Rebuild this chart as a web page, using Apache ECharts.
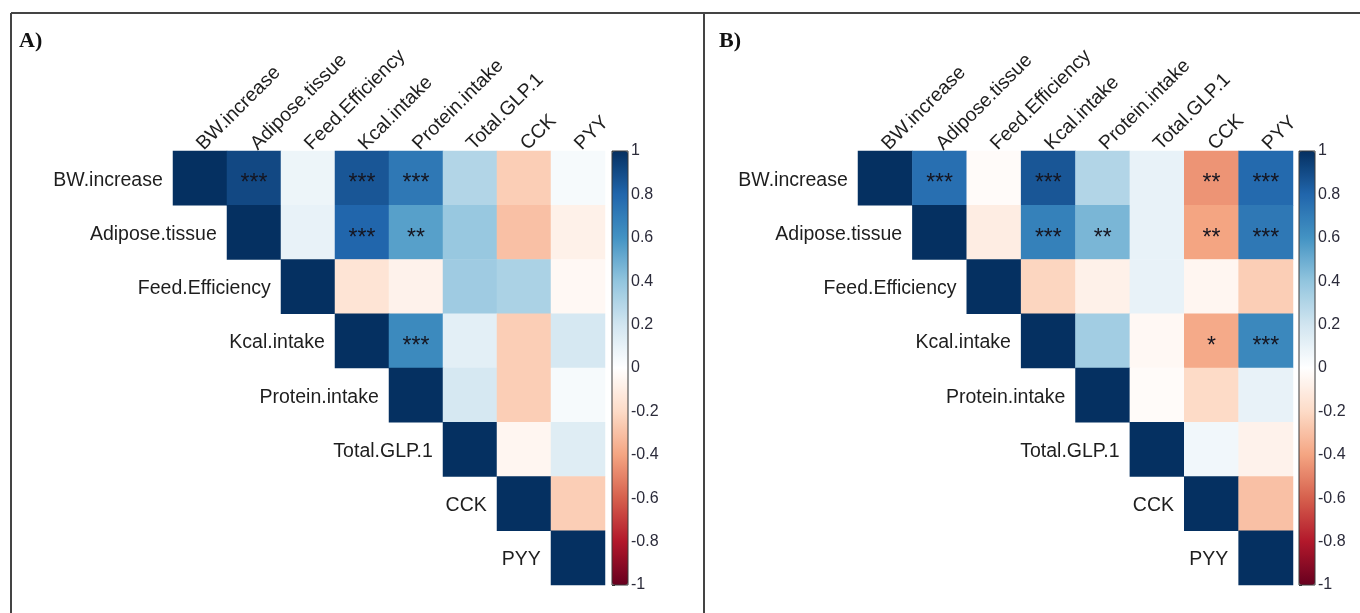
<!DOCTYPE html>
<html>
<head>
<meta charset="utf-8">
<script src="https://cdn.jsdelivr.net/npm/echarts@6/dist/echarts.min.js"></script>
<style>
  html, body { margin: 0; padding: 0; background: #ffffff; }
  #chart { width: 1360px; height: 613px; }
</style>
</head>
<body>
<div id="chart"></div>
<script>
// Variables shown on both correlation matrices
const variables = ['BW.increase', 'Adipose.tissue', 'Feed.Efficiency', 'Kcal.intake',
                   'Protein.intake', 'Total.GLP.1', 'CCK', 'PYY'];

// Upper triangle of the correlation matrix, each row starting at its diagonal
const corrA = [
  [1, 0.91, 0.08, 0.86, 0.72, 0.30, -0.25, 0.04],
  [1, 0.10, 0.80, 0.55, 0.38, -0.30, -0.08],
  [1, -0.15, -0.07, 0.36, 0.32, -0.04],
  [1, 0.64, 0.12, -0.25, 0.18],
  [1, 0.18, -0.25, 0.04],
  [1, -0.05, 0.14],
  [1, -0.25],
  [1]
];
const sigA = [
  ['', '***', '', '***', '***', '', '', ''],
  ['', '', '***', '**', '', '', ''],
  ['', '', '', '', '', ''],
  ['', '***', '', '', ''],
  ['', '', '', ''],
  ['', '', ''],
  ['', ''],
  ['']
];

const corrB = [
  [1, 0.76, -0.02, 0.86, 0.30, 0.10, -0.45, 0.78],
  [1, -0.10, 0.68, 0.46, 0.10, -0.40, 0.72],
  [1, -0.22, -0.08, 0.10, -0.05, -0.25],
  [1, 0.35, -0.04, -0.38, 0.65],
  [1, -0.02, -0.20, 0.10],
  [1, 0.06, -0.07],
  [1, -0.30],
  [1]
];
const sigB = [
  ['', '***', '', '***', '', '', '**', '***'],
  ['', '', '***', '**', '', '**', '***'],
  ['', '', '', '', '', ''],
  ['', '', '', '*', '***'],
  ['', '', '', ''],
  ['', '', ''],
  ['', ''],
  ['']
];

// Colour scale limits and step of the colour-bar ticks
const scaleMin = -1, scaleMax = 1, scaleStep = 0.2;

// RdBu diverging palette, from -1 to 1
const rdBu = ['#67001F', '#B2182B', '#D6604D', '#F4A582', '#FDDBC7', '#FFFFFF',
              '#D1E5F0', '#92C5DE', '#4393C3', '#2166AC', '#053061'];

const font = "'Liberation Sans', Arial, sans-serif";
const nameSize = 19.5;

function buildCells(corr, sig) {
  const cells = [];
  corr.forEach(function (row, i) {
    row.forEach(function (r, k) {
      const j = i + k;
      const item = { value: [j, i, r] };
      if (i === j) {
        item.label = {
          show: true, position: 'left', distance: 10, offset: [0, 2],
          formatter: variables[i], fontSize: nameSize, color: '#1e1e1e', fontFamily: font
        };
      } else if (sig[i][k]) {
        item.label = {
          show: true, position: 'inside', offset: [0, 6],
          formatter: sig[i][k], fontSize: 23, color: '#151520', fontFamily: font
        };
      }
      cells.push(item);
    });
  });
  return cells;
}

const panels = [
  { grid: { left: 173, top: 151, width: 432, height: 434 }, bar: { left: 612, top: 151 }, corr: corrA, sig: sigA },
  { grid: { left: 858, top: 151, width: 435, height: 434 }, bar: { left: 1299, top: 151 }, corr: corrB, sig: sigB }
];
const barWidth = 16, barHeight = 434;

const grid = [], xAxis = [], yAxis = [], series = [], visualMap = [];
panels.forEach(function (p, n) {
  grid.push(Object.assign({ containLabel: false }, p.grid));
  xAxis.push({
    type: 'category', gridIndex: n, data: variables, position: 'top',
    axisLine: { show: false }, axisTick: { show: false }, splitLine: { show: false },
    axisLabel: {
      rotate: -45, align: 'left', verticalAlign: 'middle', interval: 0, margin: 4,
      fontSize: nameSize, color: '#1e1e1e', fontFamily: font
    }
  });
  yAxis.push({
    type: 'category', gridIndex: n, data: variables, inverse: true,
    axisLine: { show: false }, axisTick: { show: false }, axisLabel: { show: false }, splitLine: { show: false }
  });
  series.push({
    type: 'heatmap', xAxisIndex: n, yAxisIndex: n,
    data: buildCells(p.corr, p.sig),
    itemStyle: { borderWidth: 0 },
    emphasis: { disabled: true },
    silent: true
  });
  visualMap.push({
    type: 'continuous', seriesIndex: n, dimension: 2,
    min: scaleMin, max: scaleMax, calculable: false, realtime: false,
    left: p.bar.left, top: p.bar.top, itemWidth: barWidth, itemHeight: barHeight,
    padding: 0, text: null, showLabel: false, hoverLink: false,
    inRange: { color: rdBu }
  });
});

// Tick axes drawn alongside each colour bar
panels.forEach(function (p, n) {
  const gi = grid.length;
  grid.push({
    left: p.bar.left, top: p.bar.top, width: barWidth, height: barHeight,
    show: true, borderColor: '#3a3a3a', borderWidth: 1, backgroundColor: 'rgba(0,0,0,0)', z: 10
  });
  xAxis.push({ type: 'value', gridIndex: gi, show: false });
  yAxis.push({
    type: 'value', gridIndex: gi, position: 'right',
    min: scaleMin, max: scaleMax, interval: scaleStep,
    axisLine: { show: false }, splitLine: { show: false },
    axisTick: { show: true, length: 3, lineStyle: { color: '#333', width: 1 } },
    axisLabel: { margin: 3, fontSize: 16, color: '#2b2b3a', fontFamily: font }
  });
});

const chart = echarts.init(document.getElementById('chart'), null, { renderer: 'canvas' });
chart.setOption({
  backgroundColor: '#ffffff',
  animation: false,
  textStyle: { fontFamily: font },
  grid: grid,
  xAxis: xAxis,
  yAxis: yAxis,
  visualMap: visualMap,
  series: series,
  graphic: [
    { type: 'line', shape: { x1: 11, y1: 13, x2: 1360, y2: 13 }, style: { stroke: '#444', lineWidth: 2 } },
    { type: 'line', shape: { x1: 11, y1: 13, x2: 11, y2: 613 }, style: { stroke: '#444', lineWidth: 2 } },
    { type: 'line', shape: { x1: 704, y1: 13, x2: 704, y2: 613 }, style: { stroke: '#444', lineWidth: 2 } },
    { type: 'text', left: 19, top: 30, style: { text: 'A)', font: "bold 22px 'Liberation Serif', serif", fill: '#111' } },
    { type: 'text', left: 719, top: 30, style: { text: 'B)', font: "bold 22px 'Liberation Serif', serif", fill: '#111' } }
  ]
});
</script>
</body>
</html>
